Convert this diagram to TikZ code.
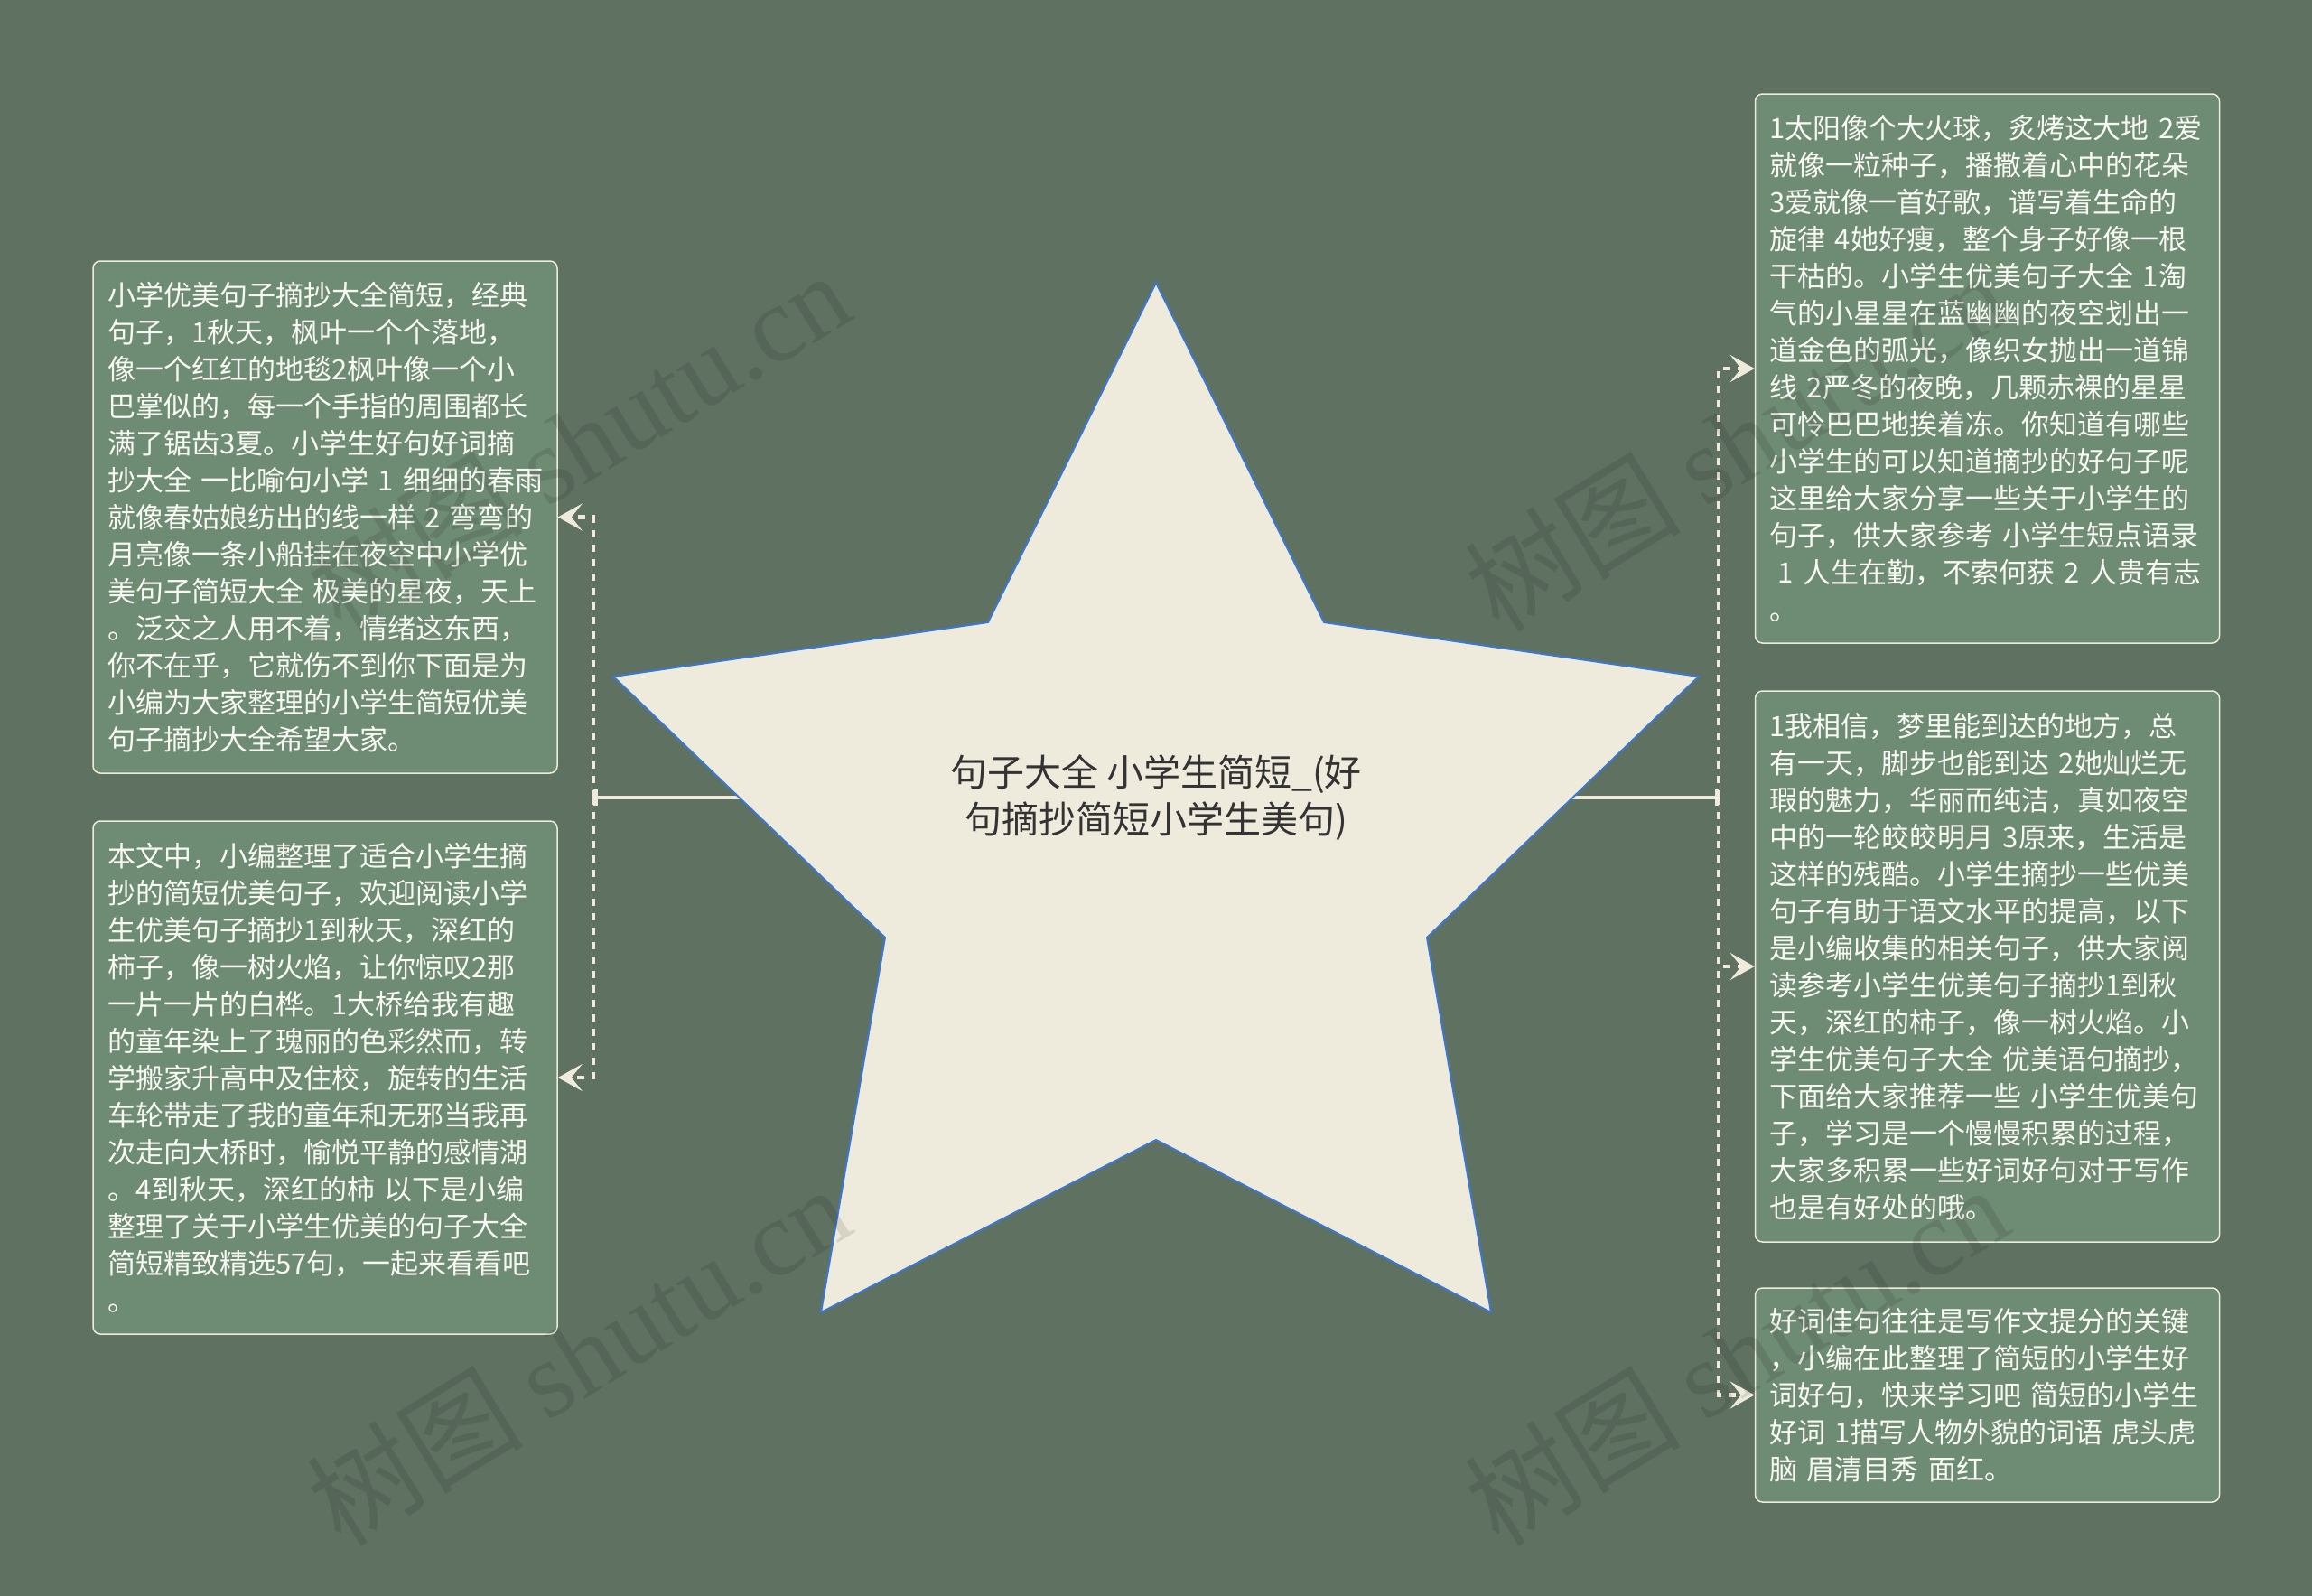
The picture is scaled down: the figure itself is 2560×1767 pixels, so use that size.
\documentclass[tikz,border=0pt]{standalone}
\usepackage{fontspec}
\usetikzlibrary{arrows.meta}
\newfontfamily\cjk{Noto Sans CJK SC}
\newfontfamily\wmlat{Liberation Serif}
\definecolor{bg}{HTML}{5F7262}
\definecolor{boxfill}{HTML}{6E8B74}
\definecolor{cream}{HTML}{EFEBDC}
\definecolor{starblue}{HTML}{3C78D0}
\definecolor{titlecol}{HTML}{333333}
\definecolor{boxtext}{HTML}{F8F8F2}
\begin{document}
\begin{tikzpicture}[x=1pt,y=-1pt,
 textbox/.style={draw=cream, line width=1.5pt, fill=boxfill, rounded corners=8pt,
   minimum width=514pt, text width=482pt, inner xsep=16pt, inner ysep=0pt,
   align=left, text=boxtext, font=\cjk\fontsize{31pt}{41pt}\selectfont},
 trunkline/.style={draw=cream, line width=4.5pt, -{Bar[width=18pt]}},
 branch/.style={draw=cream, line width=4.5pt, dash pattern=on 8pt off 8pt,
   -{Stealth[length=27pt,width=30pt,inset=12pt]}},
 wm/.style={rotate=31.6, text=black, text opacity=0.1,
   font=\cjk\fontsize{120pt}{130pt}\selectfont}
]
\useasboundingbox (0,0) rectangle (2560,1767);
\fill[bg] (0,0) rectangle (2560,1767);

% coordinates
\coordinate (c) at (1280,883);
\coordinate (ltrunk) at (657,883);
\coordinate (rtrunk) at (1903,883);

% solid lines behind the star
\draw[trunkline] (c) -- (ltrunk);
\draw[trunkline] (c) -- (rtrunk);

% star
\draw[fill=cream, draw=starblue, line width=2pt, line join=miter]
  (1280,313) -- (1466,689) -- (1881,749) -- (1580,1038) -- (1651,1453)
  -- (1280,1262) -- (909,1453) -- (980,1038) -- (679,749) -- (1094,689) -- cycle;

\node[text=titlecol, align=center, font=\cjk\fontsize{41pt}{52pt}\selectfont] (title) at (c)
  {句子大全~小学生简短\_(好\\句摘抄简短小学生美句)};

% boxes
\node[textbox, minimum height=567pt] (l1) at (360,572.5) {%
\mbox{小学优美句子摘抄大全简短，经典}\\
\mbox{句子，1秋天，枫叶一个个落地，}\\
\mbox{像一个红红的地毯2枫叶像一个小}\\
\mbox{巴掌似的，每一个手指的周围都长}\\
\mbox{满了锯齿3夏。小学生好句好词摘}\\
\mbox{抄大全 一比喻句小学 1 细细的春雨}\\
\mbox{就像春姑娘纺出的线一样 2 弯弯的}\\
\mbox{月亮像一条小船挂在夜空中小学优}\\
\mbox{美句子简短大全 极美的星夜，天上}\\
\mbox{。泛交之人用不着，情绪这东西，}\\
\mbox{你不在乎，它就伤不到你下面是为}\\
\mbox{小编为大家整理的小学生简短优美}\\
\mbox{句子摘抄大全希望大家。}};

\node[textbox, minimum height=568pt] (l2) at (360,1193) {%
\mbox{本文中，小编整理了适合小学生摘}\\
\mbox{抄的简短优美句子，欢迎阅读小学}\\
\mbox{生优美句子摘抄1到秋天，深红的}\\
\mbox{柿子，像一树火焰，让你惊叹2那}\\
\mbox{一片一片的白桦。1大桥给我有趣}\\
\mbox{的童年染上了瑰丽的色彩然而，转}\\
\mbox{学搬家升高中及住校，旋转的生活}\\
\mbox{车轮带走了我的童年和无邪当我再}\\
\mbox{次走向大桥时，愉悦平静的感情湖}\\
\mbox{。4到秋天，深红的柿 以下是小编}\\
\mbox{整理了关于小学生优美的句子大全}\\
\mbox{简短精致精选57句，一起来看看吧}\\
\mbox{。}};

\node[textbox, minimum height=608pt] (r1) at (2200.5,408) {%
\mbox{1太阳像个大火球，炙烤这大地 2爱}\\
\mbox{就像一粒种子，播撒着心中的花朵}\\
\mbox{3爱就像一首好歌，谱写着生命的}\\
\mbox{旋律 4她好瘦，整个身子好像一根}\\
\mbox{干枯的。小学生优美句子大全 1淘}\\
\mbox{气的小星星在蓝幽幽的夜空划出一}\\
\mbox{道金色的弧光，像织女抛出一道锦}\\
\mbox{线 2严冬的夜晚，几颗赤裸的星星}\\
\mbox{可怜巴巴地挨着冻。你知道有哪些}\\
\mbox{小学生的可以知道摘抄的好句子呢}\\
\mbox{这里给大家分享一些关于小学生的}\\
\mbox{句子，供大家参考 小学生短点语录}\\
\mbox{\hspace*{0.3em}1 人生在勤，不索何获 2 人贵有志}\\
\mbox{。}};

\node[textbox, minimum height=610pt] (r2) at (2200.5,1070) {%
\mbox{1我相信，梦里能到达的地方，总}\\
\mbox{有一天，脚步也能到达 2她灿烂无}\\
\mbox{瑕的魅力，华丽而纯洁，真如夜空}\\
\mbox{中的一轮皎皎明月 3原来，生活是}\\
\mbox{这样的残酷。小学生摘抄一些优美}\\
\mbox{句子有助于语文水平的提高，以下}\\
\mbox{是小编收集的相关句子，供大家阅}\\
\mbox{读参考小学生优美句子摘抄1到秋}\\
\mbox{天，深红的柿子，像一树火焰。小}\\
\mbox{学生优美句子大全 优美语句摘抄，}\\
\mbox{下面给大家推荐一些 小学生优美句}\\
\mbox{子，学习是一个慢慢积累的过程，}\\
\mbox{大家多积累一些好词好句对于写作}\\
\mbox{也是有好处的哦。}};

\node[textbox, minimum height=237pt] (r3) at (2200.5,1544.5) {%
\mbox{好词佳句往往是写作文提分的关键}\\
\mbox{，小编在此整理了简短的小学生好}\\
\mbox{词好句，快来学习吧 简短的小学生}\\
\mbox{好词 1描写人物外貌的词语 虎头虎}\\
\mbox{脑 眉清目秀 面红。}};

% dashed branches
\draw[branch] (ltrunk) |- (l1.east);
\draw[branch] (ltrunk) |- (l2.east);
\draw[branch] (rtrunk) |- (r1.west);
\draw[branch] (rtrunk) |- (r2.west);
\draw[branch] (rtrunk) |- (r3.west);

% watermarks
\node[wm] (wm1) at (640,488) {树图 {\wmlat shutu.cn}};
\node[wm] (wm2) at (640,1500) {树图 {\wmlat shutu.cn}};
\node[wm] (wm3) at (1922,488) {树图 {\wmlat shutu.cn}};
\node[wm] (wm4) at (1922,1500) {树图 {\wmlat shutu.cn}};
\end{tikzpicture}
\end{document}
